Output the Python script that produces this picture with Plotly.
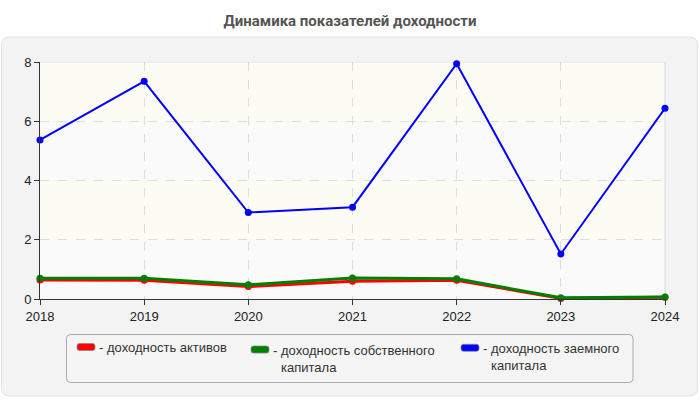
import plotly.graph_objects as go

years = [2018, 2019, 2020, 2021, 2022, 2023, 2024]
roa = [0.64, 0.63, 0.42, 0.60, 0.63, 0.02, 0.06]
roe = [0.70, 0.70, 0.48, 0.71, 0.68, 0.04, 0.07]
rod = [5.37, 7.35, 2.92, 3.10, 7.94, 1.52, 6.44]
names = ["доходность активов", "доходность собственного<br>капитала", "доходность заемного<br>капитала"]
colors = ["#ff0000", "#008000", "#0000ff"]
title = "Динамика показателей доходности"

W, H = 700, 400
L, R, T, B = 40, 35, 62, 101
pw, ph = W - L - R, H - T - B
FONT = "Liberation Sans, Arial"


def px(x):
    return (x - L) / pw


def py(y):
    return (H - B - y) / ph


def rrect(x0, y0, x1, y1, r):
    rx, ry = r / pw, r / ph
    a, b, c, d = px(x0), py(y0), px(x1), py(y1)
    return (f"M{a+rx},{b} L{c-rx},{b} Q{c},{b} {c},{b-ry} L{c},{d+ry} Q{c},{d} {c-rx},{d} "
            f"L{a+rx},{d} Q{a},{d} {a},{d+ry} L{a},{b-ry} Q{a},{b} {a+rx},{b} Z")


fig = go.Figure()
series = [(roa, 3), (roe, 3), (rod, 2)]
for i, (vals, lw) in enumerate(series):
    fig.add_trace(go.Scatter(x=years, y=vals, mode="lines+markers",
                             line=dict(color=colors[i], width=lw),
                             marker=dict(color=colors[i], size=7),
                             showlegend=False, cliponaxis=False))

shapes = []
shapes.append(dict(type="path", xref="paper", yref="paper", path=rrect(1.5, 37, 697.5, 396, 8),
                   fillcolor="#f3f3f3", line=dict(color="#e2e2e2", width=1), layer="below"))
shapes.append(dict(type="path", xref="paper", yref="paper", path=rrect(66.5, 334.5, 633, 382.5, 4),
                   fillcolor="#f5f5f5", line=dict(color="#aaaaaa", width=1), layer="below"))
band_cols = ["#fafafa", "#fcfcf4", "#fafafa", "#fcfcf4"]
for k in range(4):
    shapes.append(dict(type="rect", xref="x domain", yref="y", x0=0, x1=1, y0=2 * k, y1=2 * k + 2,
                       fillcolor=band_cols[k], line=dict(width=0), layer="below"))
shapes.append(dict(type="line", xref="x domain", yref="y", x0=0, x1=1, y0=8, y1=8,
                   line=dict(color="#dcdcdc", width=1), layer="below"))
shapes.append(dict(type="line", xref="x domain", yref="y domain", x0=1, x1=1, y0=0, y1=1,
                   line=dict(color="#dcdcdc", width=1), layer="below"))

annotations = []
leg_x = [77, 251, 461]
rect_y = [343.5, 346, 344.3]
first_line = [348, 351, 349]
for i in range(3):
    x0 = leg_x[i]
    shapes.append(dict(type="path", xref="paper", yref="paper",
                       path=rrect(x0, rect_y[i], x0 + 18, rect_y[i] + 7, 2.5),
                       fillcolor=colors[i], line=dict(color="#888888", width=0.8)))
    annotations.append(dict(xref="paper", yref="paper", x=px(x0 + 20), y=py(first_line[i] - 1), text="-",
                            showarrow=False, xanchor="left", yanchor="middle",
                            font=dict(size=13, color="#333333", family=FONT)))
    nlines = names[i].count("<br>") + 1
    yc = first_line[i] - 1 + (nlines - 1) * 17 / 2
    annotations.append(dict(xref="paper", yref="paper", x=px(x0 + 28), y=py(yc), text=names[i],
                            showarrow=False, xanchor="left", yanchor="middle", align="left",
                            font=dict(size=13, color="#333333", family=FONT)))

fig.update_layout(
    width=W, height=H,
    margin=dict(l=L, r=R, t=T, b=B),
    paper_bgcolor="white", plot_bgcolor="rgba(0,0,0,0)",
    title=dict(text="<b>" + title + "</b>", x=0.5, xanchor="center", y=1 - 21 / H, yanchor="middle",
               font=dict(size=15, color="#555555", family="Roboto, Liberation Sans, Arial")),
    shapes=shapes, annotations=annotations,
    font=dict(family=FONT, size=13, color="#222222"),
    xaxis=dict(range=[2018, 2024], tickmode="array", tickvals=years, ticktext=[str(y) for y in years],
               showgrid=True, gridcolor="#dddddd", griddash="dash", gridwidth=1,
               showline=True, linecolor="#333333", linewidth=1,
               ticks="outside", ticklen=5, tickcolor="#333333", zeroline=False,
               tickfont=dict(size=13, color="#222222")),
    yaxis=dict(range=[0, 8], tickvals=[0, 2, 4, 6, 8],
               showgrid=True, gridcolor="#dddddd", griddash="dash", gridwidth=1,
               showline=True, linecolor="#333333", linewidth=1,
               ticks="outside", ticklen=5, tickcolor="#333333", zeroline=False,
               tickfont=dict(size=13, color="#222222")),
)
fig.write_html("out.html")
